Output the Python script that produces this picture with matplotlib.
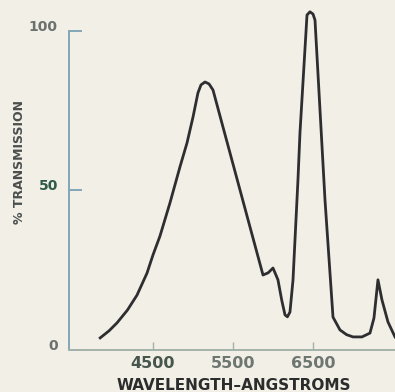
import matplotlib
matplotlib.use("Agg")
import matplotlib.pyplot as plt

# transmission curve
wavelength = [3840, 3950, 4050, 4180, 4300, 4425, 4500, 4587, 4712, 4837, 4925, 5000,
              5062, 5100, 5150, 5200, 5250, 5337, 5462, 5587, 5712, 5875, 5940, 6000,
              6062, 6110, 6150, 6180, 6212, 6250, 6312, 6337, 6425, 6462, 6500, 6525,
              6650, 6750, 6837, 6920, 7000, 7112, 7212, 7262, 7312, 7362, 7437, 7525]
transmission = [3.8, 6.0, 8.5, 12.5, 17.2, 24.1, 29.8, 35.7, 46.1, 57.4, 64.9, 73.0,
                80.6, 83.1, 84.0, 83.4, 81.5, 73.4, 61.8, 50.2, 38.6, 23.5, 24.2, 25.7,
                22.0, 15.5, 11.0, 10.4, 11.9, 21.9, 53.3, 68.0, 105.0, 106.0, 105.3, 103.4,
                47.0, 10.3, 6.3, 4.8, 4.1, 4.1, 5.3, 10.0, 22.0, 15.7, 8.8, 4.1]

xticks = [4500, 5500, 6500]
yticks = [0, 50, 100]

bg = "#f1efe6"
fig = plt.figure(figsize=(3.95, 3.92), dpi=100, facecolor=bg)
ax = fig.add_axes([69 / 395, 42 / 392, 326 / 395, 350 / 392], facecolor=bg)

ax.plot(wavelength, transmission, color="#2e2e30", lw=2.0, solid_joinstyle="round")

ax.set_xlim(3450, 7525)
ax.set_ylim(0, 109.7)

for s in ["top", "right"]:
    ax.spines[s].set_visible(False)
ax.spines["left"].set_bounds(0, 100)
ax.spines["left"].set_color("#82a6b6")
ax.spines["bottom"].set_color("#a3b2aa")
ax.spines["left"].set_linewidth(1.4)
ax.spines["bottom"].set_linewidth(1.4)

fnt = ["DejaVu Sans Condensed", "DejaVu Sans"]

ax.set_xticks(xticks)
ax.set_xticklabels([str(v) for v in xticks], family=fnt, fontweight="bold",
                   fontsize=11.5, color="#6d7670")
ax.get_xticklabels()[0].set_color("#46564d")
ax.set_yticks(yticks)
ax.set_yticklabels([str(v) for v in yticks], family=fnt, fontweight="bold",
                   fontsize=10, color="#6d716e", va="baseline")
ax.get_yticklabels()[1].set_color("#2f5a48")
ax.tick_params(axis="y", direction="in", length=9, width=1.4, color="#82a6b6", pad=8)
ax.tick_params(axis="x", direction="in", length=6, width=1, color="#a3b2aa", pad=4)

fig.text(234 / 395, 1 - 385 / 392, "WAVELENGTH\u2013ANGSTROMS", family=fnt,
         fontweight="bold", fontsize=11, color="#2a2d2c", ha="center", va="center")
fig.text(20 / 395, 1 - 162 / 392, "% TRANSMISSION", family=fnt, fontweight="bold",
         fontsize=9, color="#4a4f4d", rotation=90, ha="center", va="center")

fig.savefig("out.png", dpi=100, facecolor=bg)
